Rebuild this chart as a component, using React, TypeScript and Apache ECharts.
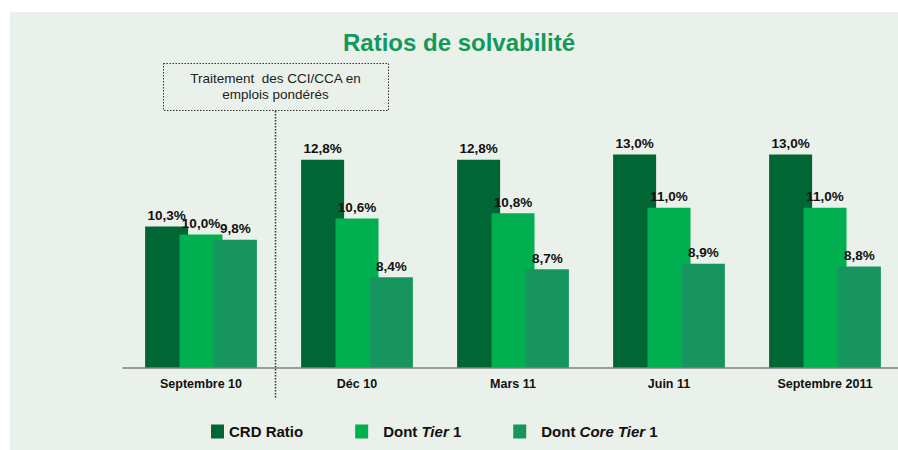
import React, { useEffect, useRef } from "react";
import * as echarts from "echarts";

const categories = ["Septembre 10", "Déc 10", "Mars 11", "Juin 11", "Septembre 2011"];
const seriesNames = ["CRD Ratio", "Dont Tier 1", "Dont Core Tier 1"];
const crdRatio = [10.3, 12.8, 12.8, 13.0, 13.0];
const tier1 = [10.0, 10.6, 10.8, 11.0, 11.0];
const coreTier1 = [9.8, 8.4, 8.7, 8.9, 8.8];
const colors = ["#006633", "#00b050", "#17955f"];

const fmt = (v: number) => v.toFixed(1).replace(".", ",") + "%";

export default function App() {
  const ref = useRef<HTMLDivElement>(null);
  useEffect(() => {
    if (!ref.current) return;
    const chart = echarts.init(ref.current, null, { renderer: "svg" });
    const font = "Liberation Sans";
    const dataSets = [crdRatio, tier1, coreTier1];
    const legendPad = [0, 10, 10];
    chart.setOption({
      animation: false,
      backgroundColor: "#ffffff",
      textStyle: { fontFamily: font },
      grid: { left: 123, right: 2, top: 101, bottom: 82 },
      xAxis: {
        type: "category",
        data: categories,
        axisLine: { lineStyle: { color: "#7f7f7f", width: 1.5 } },
        axisTick: { show: false },
        axisLabel: { fontSize: 12.5, fontWeight: "bold", color: "#111", margin: 9, fontFamily: font },
        z: 5,
      },
      yAxis: { type: "value", min: 5, max: 15, show: false, splitLine: { show: false } },
      legend: {
        left: 206,
        top: 419,
        itemWidth: 13,
        itemHeight: 14,
        itemGap: 52,
        icon: "rect",
        data: seriesNames.map((name, i) => ({
          name,
          textStyle: { padding: [0, 0, 0, legendPad[i]] },
        })),
        formatter: (name: string) => {
          if (name === "Dont Tier 1") return "Dont {i|Tier} 1";
          if (name === "Dont Core Tier 1") return "Dont {i|Core Tier} 1";
          return name;
        },
        textStyle: {
          fontSize: 15,
          fontWeight: "bold",
          color: "#111",
          fontFamily: font,
          rich: { i: { fontStyle: "italic", fontWeight: "bold", fontSize: 15, color: "#111", fontFamily: font } },
        },
      },
      graphic: [
        { type: "rect", z: -10, silent: true, shape: { x: 10, y: 12, width: 900, height: 450 }, style: { fill: "#eaf0ea" } },
        {
          type: "text",
          x: 459,
          y: 42,
          style: { text: "Ratios de solvabilité", fontSize: 24, fontWeight: "bold", fill: "#12995a", fontFamily: font, textAlign: "center", textVerticalAlign: "middle" },
        },
        {
          type: "rect",
          shape: { x: 163.5, y: 63.5, width: 225, height: 47 },
          style: { fill: "none", stroke: "#333", lineWidth: 1, lineDash: [1.5, 1.5] },
        },
        {
          type: "text",
          x: 275.5,
          y: 78,
          style: { text: "Traitement  des CCI/CCA en", fontSize: 13.5, fill: "#222", fontFamily: font, textAlign: "center", textVerticalAlign: "middle" },
        },
        {
          type: "text",
          x: 275.5,
          y: 94,
          style: { text: "emplois pondérés", fontSize: 13.5, fill: "#222", fontFamily: font, textAlign: "center", textVerticalAlign: "middle" },
        },
        {
          type: "line",
          shape: { x1: 275.5, y1: 111, x2: 275.5, y2: 398 },
          style: { stroke: "#333", lineWidth: 1.5, lineDash: [1.5, 1.5] },
        },
      ],
      series: seriesNames.map((name, i) => ({
        name,
        type: "bar",
        data: dataSets[i],
        barWidth: 43,
        barGap: "-20%",
        itemStyle: { color: colors[i] },
        label: {
          show: true,
          position: "top",
          distance: 4,
          formatter: (p: any) => fmt(p.value),
          fontSize: 13.5,
          fontWeight: "bold",
          color: "#111",
          fontFamily: font,
        },
      })),
    });
    return () => chart.dispose();
  }, []);
  return <div ref={ref} style={{ position: "fixed", left: 0, top: 0, width: 905, height: 450 }} />;
}
